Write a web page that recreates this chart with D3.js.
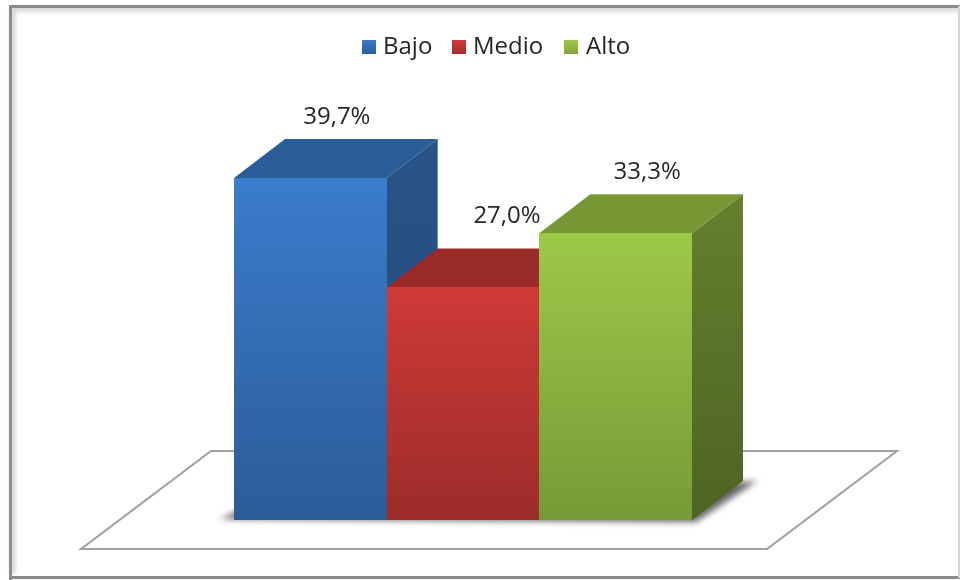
<!DOCTYPE html>
<html>
<head>
<meta charset="utf-8">
<script src="https://cdn.jsdelivr.net/npm/d3@7"></script>
<style>
  body { margin: 0; background: #fff; }
  svg { display: block; }
  text { font-family: "Open Sans", sans-serif; fill: #262626; }
</style>
</head>
<body>
<div id="chart"></div>
<script>
const categories = ["Bajo", "Medio", "Alto"];
const values = [39.7, 27.0, 33.3];
const valueLabels = ["39,7%", "27,0%", "33,3%"];
const frontTop = ["#3b7ccd", "#cf3a37", "#9dc948"];
const frontBottom = ["#2b5c98", "#9c2c2a", "#769a37"];
const topColors = ["#2b5d99", "#9a2b29", "#769733"];
const sideTop = ["#285488", "#8a2725", "#64802e"];
const sideBottom = ["#234a78", "#7a2220", "#4e6423"];
const legendX = [362, 452, 564];

const width = 960, height = 580;
const depthX = 51, depthY = 39;

const svg = d3.select("#chart").append("svg")
    .attr("width", width)
    .attr("height", height);

const x = d3.scaleBand().domain(categories).range([234, 692]).padding(0);
const y = d3.scaleLinear().domain([0, 39.7]).range([520, 178]);
const color = d3.scaleOrdinal().domain(categories);

const defs = svg.append("defs");
defs.append("filter").attr("id", "blur")
    .attr("x", "-20%").attr("y", "-20%").attr("width", "140%").attr("height", "140%")
    .append("feGaussianBlur").attr("stdDeviation", 3);
defs.append("filter").attr("id", "edgeBlur")
    .attr("x", "-5%").attr("y", "-5%").attr("width", "110%").attr("height", "110%")
    .append("feGaussianBlur").attr("stdDeviation", 2);
defs.append("filter").attr("id", "soft")
    .append("feGaussianBlur").attr("stdDeviation", 0.45);

function gradient(id, c1, c2) {
    const g = defs.append("linearGradient").attr("id", id)
        .attr("x1", 0).attr("y1", 0).attr("x2", 0).attr("y2", 1);
    g.append("stop").attr("offset", "0%").attr("stop-color", c1);
    g.append("stop").attr("offset", "100%").attr("stop-color", c2);
}
categories.forEach((c, i) => {
    gradient("front" + i, frontTop[i], frontBottom[i]);
    gradient("side" + i, sideTop[i], sideBottom[i]);
});
gradient("legend0", "#3b7ccd", "#2b5c98");
color.range(categories.map((c, i) => `url(#legend${i})`));
gradient("legend1", "#cf3a37", "#a52e2c");
gradient("legend2", "#9dc948", "#7fa53a");

// marco exterior
const frame = svg.append("g");
frame.append("path")
    .attr("d", "M13,574V9H960")
    .attr("fill", "none")
    .attr("stroke", "#c8c8c8")
    .attr("stroke-width", 4)
    .attr("filter", "url(#edgeBlur)");
frame.append("path")
    .attr("d", "M13,573H960")
    .attr("fill", "none")
    .attr("stroke", "#b0b0b0")
    .attr("stroke-width", 4)
    .attr("filter", "url(#edgeBlur)");
frame.append("path")
    .attr("d", "M10.5,580V6.5H960")
    .attr("fill", "none")
    .attr("stroke", "#8c8c8c")
    .attr("stroke-width", 3);
frame.append("path")
    .attr("d", "M10,577.5H960")
    .attr("fill", "none")
    .attr("stroke", "#8c8c8c")
    .attr("stroke-width", 3);
frame.append("path")
    .attr("d", "M959,6V578")
    .attr("fill", "none")
    .attr("stroke", "#d4d4d4")
    .attr("stroke-width", 2);

// suelo
const floor = d3.line();
svg.append("path")
    .attr("d", floor([[211, 451], [897, 451], [767, 549], [81, 549]]) + "Z")
    .attr("fill", "#fff")
    .attr("stroke", "#a0a0a0")
    .attr("stroke-width", 2);

// sombra
svg.append("path")
    .attr("d", floor([
        [x("Bajo") - 14, y(0) - 1],
        [x("Bajo") + 10, y(0) - 12],
        [x("Alto") + x.bandwidth() + depthX + 14, y(0) - depthY + 0],
        [x("Alto") + x.bandwidth() + 4, y(0) + 2]
    ]) + "Z")
    .attr("fill", "#666")
    .attr("filter", "url(#blur)");

const bars = svg.selectAll(".bar")
    .data(categories)
    .enter()
    .append("g")
    .attr("class", "bar");

// lado derecho
bars.append("path")
    .attr("d", (d, i) => {
        const r = x(d) + x.bandwidth();
        return floor([[r, y(values[i])], [r + depthX, y(values[i]) - depthY],
            [r + depthX, y(0) - depthY], [r, y(0)]]) + "Z";
    })
    .attr("fill", (d, i) => `url(#side${i})`);

// cara superior
bars.append("path")
    .attr("d", (d, i) => {
        const l = x(d), r = l + x.bandwidth();
        return floor([[l, y(values[i])], [l + depthX, y(values[i]) - depthY],
            [r + depthX, y(values[i]) - depthY], [r, y(values[i])]]) + "Z";
    })
    .attr("fill", (d, i) => topColors[i]);

// frente
bars.append("rect")
    .attr("x", d => x(d))
    .attr("y", (d, i) => y(values[i]))
    .attr("width", x.bandwidth())
    .attr("height", (d, i) => y(0) - y(values[i]))
    .attr("shape-rendering", "crispEdges")
    .attr("fill", (d, i) => `url(#front${i})`);

// etiquetas
const labelDy = [-54, -64, -54];
const labelDx = [26.5, 44, 31.5];
svg.selectAll(".value")
    .data(categories)
    .enter()
    .append("text")
    .attr("class", "value")
    .attr("x", (d, i) => x(d) + x.bandwidth() / 2 + labelDx[i])
    .attr("y", (d, i) => y(values[i]) + labelDy[i])
    .attr("text-anchor", "middle")
    .style("font-size", "24px")
    .attr("filter", "url(#soft)")
    .text((d, i) => valueLabels[i]);

// leyenda
const legend = svg.selectAll(".legend")
    .data(categories)
    .enter()
    .append("g")
    .attr("class", "legend")
    .attr("transform", (d, i) => `translate(${legendX[i]},40)`);
legend.append("rect")
    .attr("width", 14)
    .attr("height", 14)
    .attr("fill", d => color(d));
legend.append("text")
    .attr("x", (d, i) => i === 2 ? 22 : 21)
    .attr("y", 13.5)
    .style("font-size", "24px")
    .attr("filter", "url(#soft)")
    .text(d => d);
</script>
</body>
</html>
